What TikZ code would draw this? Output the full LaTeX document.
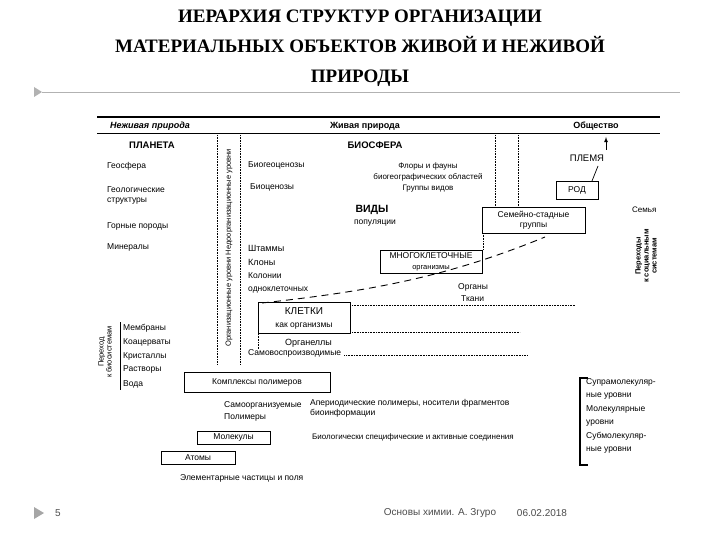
\documentclass[tikz,border=0pt]{standalone}
\usepackage{fontspec}
\setmainfont{Liberation Sans}
\newfontfamily\titlefont{Liberation Serif}
\begin{document}
\begin{tikzpicture}[x=1pt,y=-1pt,
  t/.style={font=\fontsize{8.5}{10}\selectfont,inner sep=0pt,anchor=west},
  tc/.style={font=\fontsize{8.5}{10}\selectfont,inner sep=0pt,align=center},
  bx/.style={draw,line width=0.8pt,inner sep=0pt},
  dt/.style={densely dotted,line width=0.6pt},
  hd/.style={font=\bfseries\itshape\fontsize{9}{10}\selectfont,inner sep=0pt},
  bf/.style={font=\bfseries\fontsize{9.5}{10}\selectfont,inner sep=0pt}]
\useasboundingbox (0,0) rectangle (720,540);
\fill[white] (0,0) rectangle (720,540);
% title
\node[font=\titlefont\bfseries\fontsize{19}{30}\selectfont,align=center] (title) at (360,48)
 {ИЕРАРХИЯ СТРУКТУР ОРГАНИЗАЦИИ\\МАТЕРИАЛЬНЫХ ОБЪЕКТОВ ЖИВОЙ И НЕЖИВОЙ\\ПРИРОДЫ};
\draw[gray!60] (42,92) -- (680,92);
\fill[gray!60] (34,87) -- (42,92) -- (34,97) -- cycle;
\fill[gray!70] (34,507) -- (44,513) -- (34,519) -- cycle;
\node[font=\fontsize{10}{12}\selectfont,gray!60!black] (pg) at (58,513) {5};
\node[font=\fontsize{10}{12}\selectfont,gray!60!black] (ft) at (440,513) {Основы химии. А. Згуро};
\node[font=\fontsize{10}{12}\selectfont,gray!60!black] (dt1) at (542,513) {06.02.2018};
% header
\draw[line width=1.6pt] (97,117) -- (660,117);
\draw[line width=0.8pt] (97,133) -- (660,133);
\node[hd] (h1) at (150,126) {Неживая природа};
\node[hd,font=\bfseries\fontsize{9}{10}\selectfont] (h2) at (365,126) {Живая природа};
\node[hd,font=\bfseries\fontsize{9}{10}\selectfont] (h3) at (596,126) {Общество};
% vertical dotted
\draw[dt] (217,135) -- (217,365);
\draw[dt] (240,135) -- (240,365);
\node[font=\fontsize{7.5}{8}\selectfont,rotate=90,inner sep=0pt] (vl) at (229,248) {Организационные уровни Недоорганизационные уровни};
% left column
\node[bf] (plan) at (152,145) {ПЛАНЕТА};
\node[t] (g1) at (107,166) {Геосфера};
\node[t,align=left] (g2) at (107,195) {Геологические\\структуры};
\node[t] (g3) at (107,226) {Горные породы};
\node[t] (g4) at (107,247) {Минералы};
% middle
\node[t] (b1) at (248,165) {Биогеоценозы};
\node[t] (b2) at (250,187) {Биоценозы};
\node[bf] (bios) at (375,145) {БИОСФЕРА};
\node[tc,font=\fontsize{8}{11}\selectfont] (fl) at (428,177) {Флоры и фауны\\биогеографических областей\\Группы видов};
\node[bf,font=\bfseries\fontsize{10.5}{11}\selectfont] (vid) at (372,210) {ВИДЫ};
\node[tc] (pop) at (375,223) {популяции};
\node[t,font=\fontsize{9}{10}\selectfont] (s1) at (248,248) {Штаммы};
\node[t,font=\fontsize{9}{10}\selectfont] (s2) at (248,262) {Клоны};
\node[t,align=left,font=\fontsize{8.5}{13}\selectfont] (s3) at (248,283) {Колонии\\одноклеточных};
% boxes right
\node[bx,minimum width=102pt,minimum height=23pt,tc] (mn) at (431,261.5) {МНОГОКЛЕТОЧНЫЕ\\[1pt]{\fontsize{7.5}{8}\selectfont организмы}};
\node[bx,minimum width=103pt,minimum height=26pt,tc] (sem) at (533.5,220) {Семейно-стадные\\группы};
\node[bx,minimum width=42pt,minimum height=18pt,tc] (rod) at (577,190) {РОД};
\node[font=\fontsize{9.5}{10}\selectfont,inner sep=0pt] (pl) at (587,158) {ПЛЕМЯ};
\draw[line width=0.7pt] (592,181) -- (598,166);
\draw[-latex,line width=0.8pt] (606,150) -- (606,137);
\node[t,font=\fontsize{8}{9}\selectfont] (semya) at (632,210) {Семья};
\node[tc,font=\bfseries\fontsize{7.5}{8}\selectfont,rotate=90] (soc) at (646,256) {Переходы\\к социальным\\системам};
\draw[dt] (495,135) -- (495,207);
\draw[dt] (518,135) -- (518,207);
\draw[dt] (483,233) -- (483,250);
% dashed curve
\draw[line width=0.9pt,dash pattern=on 7pt off 5pt] (262,303) .. controls (360,292) and (440,280) .. (545,237);
\node[t] (org) at (458,287) {Органы};
\node[t] (tk) at (461,299) {Ткани};
% cells
\node[bx,minimum width=92pt,minimum height=31pt,tc] (kl) at (304,318) {{\fontsize{10}{11}\selectfont КЛЕТКИ}\\[3pt]как организмы};
\draw[dt] (kl.north east |- 0,305) -- (575,305);
\draw[dt] (kl.south east |- 0,332) -- (520,332);
\draw[dt] (258,334) -- (258,349);
\node[t,font=\fontsize{9}{10}\selectfont] (og) at (285,343) {Органеллы};
\node[t] (sv) at (248,353) {Самовоспроизводимые};
\coordinate (svend) at (528,355);
\draw[dt] (sv.east |- svend) ++(3pt,0) -- (svend);
% left bracket
\node[tc,font=\fontsize{7.5}{8}\selectfont,rotate=90] (per) at (105,352) {Переход\\к биосистемам};
\draw[line width=0.6pt] (120,322) -- (120,390);
\node[t] (m1) at (123,328) {Мембраны};
\node[t] (m2) at (123,342) {Коацерваты};
\node[t] (m3) at (123,356) {Кристаллы};
\node[t] (m4) at (123,369) {Растворы};
\node[t] (m5) at (123,384) {Вода};
% polymers
\node[bx,minimum width=146pt,minimum height=20pt,tc] (kp) at (257,382) {Комплексы полимеров};
\node[t,align=left,font=\fontsize{8.5}{12}\selectfont] (sp) at (224,411) {Самоорганизуемые\\Полимеры};
\node[t,align=left] (ap) at (310,408) {Апериодические полимеры, носители фрагментов\\биоинформации};
\node[bx,minimum width=73pt,minimum height=13pt,tc] (mol) at (233.5,437.5) {Молекулы};
\node[t,font=\fontsize{8}{10}\selectfont] (bio) at (312,437) {Биологически специфические и активные соединения};
\node[bx,minimum width=74pt,minimum height=13pt,tc] (at) at (198,457.5) {Атомы};
\node[t] (el) at (180,478) {Элементарные частицы и поля};
% right bracket
\draw[line width=1.2pt] (588,378) -- (580,378) -- (580,465) -- (588,465);
\node[t,align=left,font=\fontsize{8.5}{13.5}\selectfont] (lev) at (586,416) {Супрамолекуляр-\\ные уровни\\Молекулярные\\уровни\\Субмолекуляр-\\ные уровни};
\end{tikzpicture}
\end{document}
